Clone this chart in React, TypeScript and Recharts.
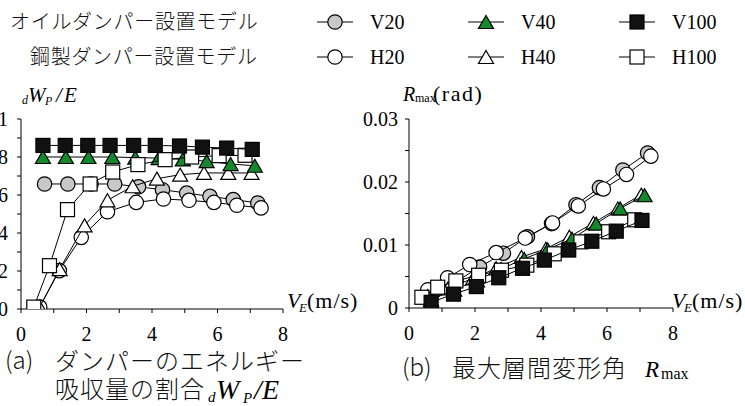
import { Scatter, ScatterChart, XAxis, YAxis } from "recharts";

const SERIF = "'Liberation Serif', 'Times New Roman', serif";
const JP = "'Noto Sans CJK JP', 'Noto Sans', sans-serif";
const GRAY = "#c8c8c8";
const GREEN = "#14892c";
const BLACK = "#111";

// input velocity V_E (m/s) for each model
const V20_VE = [0.72, 1.43, 2.14, 2.86, 3.59, 4.32, 5.06, 5.77, 6.48, 7.23];
const H20_VE = [0.57, 1.17, 1.84, 2.64, 3.52, 4.35, 5.13, 5.89, 6.59, 7.33];
const V40_VE = [0.67, 1.37, 2.06, 2.79, 3.49, 4.2, 4.94, 5.67, 6.4, 7.14];
const H40_VE = [0.57, 1.18, 1.94, 2.64, 3.41, 4.15, 4.86, 5.59, 6.33, 7.04];
const V100_VE = [0.67, 1.35, 2.04, 2.72, 3.44, 4.1, 4.84, 5.54, 6.28, 7.06];
const H100_VE = [0.39, 0.87, 1.42, 2.11, 2.8, 3.57, 4.4, 5.21, 6.05, 6.84];

// damper share of absorbed energy dWp/E
const V20_RATIO = [0.658, 0.658, 0.658, 0.658, 0.643, 0.628, 0.61, 0.593, 0.576, 0.558];
const H20_RATIO = [0.01, 0.202, 0.377, 0.512, 0.561, 0.579, 0.572, 0.561, 0.546, 0.532];
const V40_RATIO = [0.8, 0.8, 0.8, 0.8, 0.797, 0.794, 0.787, 0.778, 0.763, 0.754];
const H40_RATIO = [0.01, 0.21, 0.44, 0.572, 0.646, 0.686, 0.707, 0.716, 0.716, 0.716];
const V100_RATIO = [0.861, 0.861, 0.861, 0.861, 0.861, 0.861, 0.858, 0.852, 0.847, 0.84];
const H100_RATIO = [0.01, 0.228, 0.523, 0.658, 0.721, 0.76, 0.786, 0.8, 0.807, 0.809];

// maximum story drift angle Rmax (rad)
const V20_RMAX = [0.0024, 0.0042, 0.0065, 0.0087, 0.0113, 0.0134, 0.0164, 0.0191, 0.0219, 0.0246];
const H20_RMAX = [0.0029, 0.0048, 0.0069, 0.0088, 0.0111, 0.0135, 0.0162, 0.0189, 0.0212, 0.0241];
const V40_RMAX = [0.0013, 0.0029, 0.0044, 0.0062, 0.0078, 0.0093, 0.011, 0.0134, 0.0158, 0.0179];
const H40_RMAX = [0.0019, 0.0031, 0.0047, 0.0063, 0.0081, 0.0094, 0.0113, 0.0135, 0.0158, 0.018];
const V100_RMAX = [0.0009, 0.0022, 0.0034, 0.0048, 0.0063, 0.0076, 0.0092, 0.0106, 0.0122, 0.0139];
const H100_RMAX = [0.0017, 0.0033, 0.0043, 0.0052, 0.006, 0.0068, 0.0086, 0.0105, 0.0121, 0.014];

const X_TICKS = [0, 1, 2, 3, 4, 5, 6, 7, 8];
const RATIO_TICKS = [0, 0.1, 0.2, 0.3, 0.4, 0.5, 0.6, 0.7, 0.8, 0.9, 1];
const RMAX_TICKS = [0, 0.005, 0.01, 0.015, 0.02, 0.025, 0.03];

type Kind = "circle" | "triangle" | "square";

const SERIES = [
  { name: "V20", kind: "circle" as Kind, fill: GRAY, ve: V20_VE, ratio: V20_RATIO, rmax: V20_RMAX },
  { name: "H20", kind: "circle" as Kind, fill: "#fff", ve: H20_VE, ratio: H20_RATIO, rmax: H20_RMAX },
  { name: "H40", kind: "triangle" as Kind, fill: "#fff", ve: H40_VE, ratio: H40_RATIO, rmax: H40_RMAX },
  { name: "V40", kind: "triangle" as Kind, fill: GREEN, ve: V40_VE, ratio: V40_RATIO, rmax: V40_RMAX },
  { name: "H100", kind: "square" as Kind, fill: "#fff", ve: H100_VE, ratio: H100_RATIO, rmax: H100_RMAX },
  { name: "V100", kind: "square" as Kind, fill: BLACK, ve: V100_VE, ratio: V100_RATIO, rmax: V100_RMAX },
];

function Marker({ cx, cy, kind, fill }: { cx: number; cy: number; kind: Kind; fill: string }) {
  if (cx == null || cy == null) return null;
  const common = { fill, stroke: "#000", strokeWidth: 1.2 };
  if (kind === "circle") return <circle cx={cx} cy={cy} r={7.2} {...common} />;
  if (kind === "square") return <rect x={cx - 7} y={cy - 7} width={14} height={14} {...common} />;
  const w = 15;
  const h = 13;
  return (
    <polygon
      points={`${cx},${cy - h / 2} ${cx + w / 2},${cy + h / 2} ${cx - w / 2},${cy + h / 2}`}
      {...common}
    />
  );
}

function XTick(props: any) {
  const { x, y, payload } = props;
  if (payload.value % 2 !== 0) return null;
  return (
    <text x={x} y={y} dy="0.71em" textAnchor="middle" style={{ fontFamily: SERIF }} fontSize={20} fill="#000">
      {payload.value}
    </text>
  );
}

function makeYTick(isMajor: (v: number) => boolean) {
  return (props: any) => {
    const { x, y, payload } = props;
    if (!isMajor(payload.value)) return null;
    return (
      <text x={x} y={y} dy="0.35em" textAnchor="end" style={{ fontFamily: SERIF }} fontSize={20} fill="#000">
        {String(payload.value)}
      </text>
    );
  };
}

const RatioTick = makeYTick((v) => Math.round(v * 10) % 2 === 0);
const RmaxTick = makeYTick((v) => Math.round(v * 1000) % 10 === 0);

function Panel({
  left,
  width,
  field,
  yTicks,
  yMax,
  yWidth,
  tickMargin,
  bottom,
  right,
  tick,
}: {
  left: number;
  width: number;
  field: "ratio" | "rmax";
  yTicks: number[];
  yMax: number;
  yWidth: number;
  tickMargin: number;
  bottom: number;
  right: number;
  tick: (p: any) => any;
}) {
  return (
    <div style={{ position: "absolute", left, top: 0 }}>
      <ScatterChart width={width} height={406} margin={{ top: 119, right, bottom, left: 0 }}>
        <XAxis
          type="number"
          dataKey="x"
          domain={[0, 8]}
          ticks={X_TICKS}
          interval={0}
          height={30}
          stroke="#000"
          tickSize={4}
          tickMargin={14}
          tick={XTick}
          allowDataOverflow
        />
        <YAxis
          type="number"
          dataKey="y"
          domain={[0, yMax]}
          ticks={yTicks}
          interval={0}
          width={yWidth}
          stroke="#000"
          tickSize={4}
          tickMargin={tickMargin}
          tick={tick}
          allowDataOverflow
        />
        {SERIES.map((s) => (
          <Scatter
            key={s.name}
            name={s.name}
            data={s.ve.map((v, i) => ({ x: v, y: s[field][i] }))}
            line={{ stroke: "#000", strokeWidth: 1 }}
            shape={(p: any) => <Marker cx={p.cx} cy={p.cy} kind={s.kind} fill={s.fill} />}
            isAnimationActive={false}
          />
        ))}
      </ScatterChart>
    </div>
  );
}

function LegendMark({ cx, cy, kind, fill, label }: { cx: number; cy: number; kind: Kind; fill: string; label: string }) {
  return (
    <g>
      <line x1={cx - 18} y1={cy} x2={cx + 18} y2={cy} stroke="#000" strokeWidth={1} />
      <Marker cx={cx} cy={cy} kind={kind} fill={fill} />
      <text x={cx + 35} y={cy + 7} style={{ fontFamily: SERIF }} fontSize={20} fill="#000">
        {label}
      </text>
    </g>
  );
}

function VeLabel({ x }: { x: number }) {
  return (
    <g style={{ fontFamily: SERIF }} fill="#000">
      <text x={x} y={308} fontSize={22} fontStyle="italic">V</text>
      <text x={x + 12} y={312} fontSize={13} fontStyle="italic">E</text>
      <text x={x + 20} y={308} fontSize={22} letterSpacing={1}>(m/s)</text>
    </g>
  );
}

export default function App() {
  return (
    <div style={{ position: "absolute", left: 0, top: 0, width: 745, height: 406, background: "#fff", overflow: "hidden" }}>
      <Panel left={0} width={300} field="ratio" yTicks={RATIO_TICKS} yMax={1} yWidth={21} tickMargin={9} bottom={67} right={17} tick={RatioTick} />
      <Panel left={340} width={340} field="rmax" yTicks={RMAX_TICKS} yMax={0.03} yWidth={69} tickMargin={7} bottom={68} right={7} tick={RmaxTick} />
      <svg width={745} height={406} style={{ position: "absolute", left: 0, top: 0, pointerEvents: "none" }}>
        {/* legend */}
        <g style={{ fontFamily: JP, fontWeight: 300 }} fill="#111">
          <text x={10} y={29} fontSize={20} letterSpacing={0.7}>オイルダンパー設置モデル</text>
          <text x={30} y={64} fontSize={20} letterSpacing={0.7}>鋼製ダンパー設置モデル</text>
        </g>
        <LegendMark cx={335} cy={22} kind="circle" fill={GRAY} label="V20" />
        <LegendMark cx={486} cy={22} kind="triangle" fill={GREEN} label="V40" />
        <LegendMark cx={637} cy={22} kind="square" fill={BLACK} label="V100" />
        <LegendMark cx={335} cy={57} kind="circle" fill="#fff" label="H20" />
        <LegendMark cx={486} cy={57} kind="triangle" fill="#fff" label="H40" />
        <LegendMark cx={637} cy={57} kind="square" fill="#fff" label="H100" />

        {/* axis titles */}
        <g style={{ fontFamily: SERIF }} fill="#000" fontStyle="italic">
          <text x={22} y={104} fontSize={12}>d</text>
          <text x={28} y={102} fontSize={21}>W</text>
          <text x={45} y={105} fontSize={12}>P</text>
          <text x={56} y={102} fontSize={21}>/</text>
          <text x={64} y={102} fontSize={21}>E</text>
        </g>
        <g style={{ fontFamily: SERIF }} fill="#000">
          <text x={403} y={101} fontSize={20} fontStyle="italic">R</text>
          <text x={415} y={102} fontSize={12}>max</text>
          <text x={433} y={101} fontSize={22} letterSpacing={1.5}>(rad)</text>
        </g>
        <VeLabel x={287} />
        <VeLabel x={672} />

        {/* captions */}
        <g style={{ fontFamily: JP, fontWeight: 300 }} fill="#111">
          <text x={5} y={369} fontSize={24}>(a)</text>
          <text x={55} y={370} fontSize={24} letterSpacing={1}>ダンパーのエネルギー</text>
          <text x={55} y={398} fontSize={24} letterSpacing={1}>吸収量の割合</text>
          <text x={402} y={376} fontSize={24}>(b)</text>
          <text x={452} y={377} fontSize={24} letterSpacing={1}>最大層間変形角</text>
        </g>
        <g style={{ fontFamily: SERIF }} fill="#000" fontStyle="italic">
          <text x={208} y={402} fontSize={15}>d</text>
          <text x={216} y={399} fontSize={28}>W</text>
          <text x={243} y={403} fontSize={15}>P</text>
          <text x={254} y={399} fontSize={28}>/</text>
          <text x={262} y={399} fontSize={28}>E</text>
          <text x={645} y={377} fontSize={23}>R</text>
        </g>
        <text x={661} y={379} style={{ fontFamily: SERIF }} fontSize={16} fill="#000">max</text>
      </svg>
    </div>
  );
}
